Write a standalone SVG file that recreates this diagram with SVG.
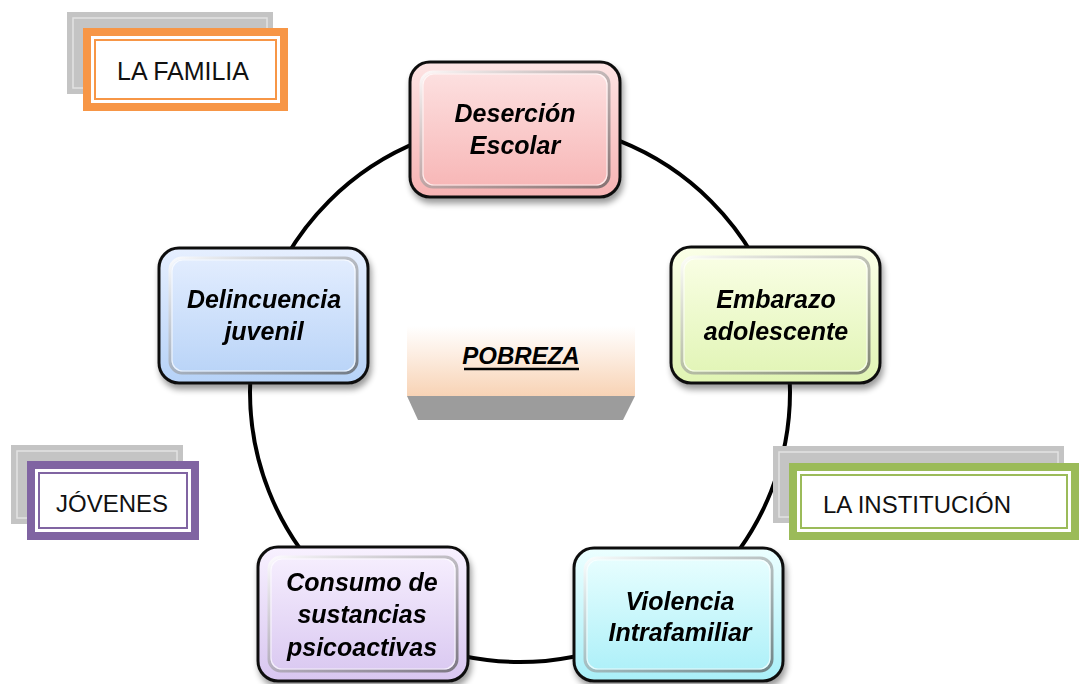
<svg xmlns="http://www.w3.org/2000/svg" width="1079" height="684" viewBox="0 0 1079 684">
<defs>
<style>
.node-text{font-family:"Liberation Sans",Arial,sans-serif;font-weight:bold;font-style:italic;font-size:25px;fill:#000;text-anchor:middle}
.label-text{font-family:"Liberation Sans",Arial,sans-serif;font-size:25px;fill:#111;text-anchor:middle}
.outer{stroke:#111;stroke-width:3}
.bevel{fill:none;stroke:url(#bevelG);stroke-width:3}
.bevel2{fill:none;stroke:#ffffff;stroke-opacity:0.7;stroke-width:1.2}
.ring{fill:none;stroke:#000;stroke-width:4}
.gray{fill:#c4c4c4}
.grayline{fill:none;stroke:#e2e2e2;stroke-width:1.5}
</style>
<filter id="shadow" x="-10%" y="-10%" width="125%" height="130%">
<feGaussianBlur in="SourceAlpha" stdDeviation="3"/>
<feOffset dx="2" dy="5" result="b"/>
<feComponentTransfer><feFuncA type="linear" slope="0.4"/></feComponentTransfer>
<feMerge><feMergeNode/><feMergeNode in="SourceGraphic"/></feMerge>
</filter>
<linearGradient id="bevelG" x1="0" y1="0" x2="1" y2="1">
<stop offset="0" stop-color="#ffffff" stop-opacity="0.8"/>
<stop offset="0.5" stop-color="#999" stop-opacity="0.6"/>
<stop offset="1" stop-color="#555" stop-opacity="0.7"/>
</linearGradient>
<linearGradient id="gPink" x1="0" y1="0" x2="0" y2="1"><stop offset="0" stop-color="#fde4e4"/><stop offset="1" stop-color="#f7b3b3"/></linearGradient>
<linearGradient id="gBlue" x1="0" y1="0" x2="0" y2="1"><stop offset="0" stop-color="#e6efff"/><stop offset="1" stop-color="#b6d2f7"/></linearGradient>
<linearGradient id="gGreen" x1="0" y1="0" x2="0" y2="1"><stop offset="0" stop-color="#fbffe8"/><stop offset="1" stop-color="#e0f4b3"/></linearGradient>
<linearGradient id="gPurple" x1="0" y1="0" x2="0" y2="1"><stop offset="0" stop-color="#f8f1ff"/><stop offset="1" stop-color="#d8c6f0"/></linearGradient>
<linearGradient id="gCyan" x1="0" y1="0" x2="0" y2="1"><stop offset="0" stop-color="#ecffff"/><stop offset="1" stop-color="#a9eff8"/></linearGradient>
<linearGradient id="gPeach" x1="0" y1="0" x2="0" y2="1"><stop offset="0" stop-color="#ffffff"/><stop offset="0.35" stop-color="#fdf0e6"/><stop offset="1" stop-color="#f8d3b5"/></linearGradient>
</defs>
<rect width="1079" height="684" fill="#ffffff"/>

<g id="connectors">
<circle class="ring" cx="520" cy="392" r="270"/>
</g>

<g id="pobreza">
<rect x="407" y="326" width="228" height="70" fill="url(#gPeach)"/>
<polygon points="407,396 635,396 623,420 418,420" fill="#9c9c9c"/>
<text x="521" y="364" class="node-text" style="font-size:24px">POBREZA</text>
<line x1="464" y1="369" x2="579" y2="369" stroke="#000" stroke-width="2.5"/>
</g>

<g id="desercion" filter="url(#shadow)">
<rect x="410" y="62" width="210" height="135" rx="20" class="outer" fill="url(#gPink)"/>
<rect x="421" y="72" width="188" height="115" rx="12" class="bevel"/>
<rect x="423" y="74" width="184" height="111" rx="11" class="bevel2"/>
<text class="node-text" x="515" y="122">Deserción</text>
<text class="node-text" x="515" y="154">Escolar</text>
</g>

<g id="delincuencia" filter="url(#shadow)">
<rect x="159" y="248" width="209" height="135" rx="20" class="outer" fill="url(#gBlue)"/>
<rect x="170" y="258" width="187" height="115" rx="12" class="bevel"/>
<rect x="172" y="260" width="183" height="111" rx="11" class="bevel2"/>
<text class="node-text" x="264" y="308">Delincuencia</text>
<text class="node-text" x="264" y="340">juvenil</text>
</g>

<g id="embarazo" filter="url(#shadow)">
<rect x="671" y="247" width="209" height="136" rx="20" class="outer" fill="url(#gGreen)"/>
<rect x="682" y="257" width="187" height="116" rx="12" class="bevel"/>
<rect x="684" y="259" width="183" height="112" rx="11" class="bevel2"/>
<text class="node-text" x="776" y="308">Embarazo</text>
<text class="node-text" x="776" y="340">adolescente</text>
</g>

<g id="consumo" filter="url(#shadow)">
<rect x="258" y="547" width="210" height="134" rx="20" class="outer" fill="url(#gPurple)"/>
<rect x="269" y="557" width="188" height="114" rx="12" class="bevel"/>
<rect x="271" y="559" width="184" height="110" rx="11" class="bevel2"/>
<text class="node-text" x="362" y="591">Consumo de</text>
<text class="node-text" x="362" y="623">sustancias</text>
<text class="node-text" x="362" y="656">psicoactivas</text>
</g>

<g id="violencia" filter="url(#shadow)">
<rect x="574" y="548" width="209" height="133" rx="20" class="outer" fill="url(#gCyan)"/>
<rect x="585" y="558" width="187" height="113" rx="12" class="bevel"/>
<rect x="587" y="560" width="183" height="109" rx="11" class="bevel2"/>
<text class="node-text" x="680" y="610">Violencia</text>
<text class="node-text" x="680" y="641">Intrafamiliar</text>
</g>

<g id="la-familia">
<rect class="gray" x="67" y="12" width="206" height="82"/>
<rect class="grayline" x="73" y="18" width="194" height="70"/>
<rect x="83" y="28" width="205" height="83" fill="#f79646"/>
<rect x="91" y="36" width="189" height="67" fill="#ffffff"/>
<rect x="95" y="40" width="181" height="59" fill="none" stroke="#f79646" stroke-width="2"/>
<text class="label-text" x="183" y="80">LA FAMILIA</text>
</g>

<g id="jovenes">
<rect class="gray" x="11" y="445" width="172" height="79"/>
<rect class="grayline" x="17" y="451" width="160" height="67"/>
<rect x="27" y="461" width="172" height="79" fill="#8064a2"/>
<rect x="35" y="469" width="156" height="63" fill="#ffffff"/>
<rect x="39" y="473" width="148" height="55" fill="none" stroke="#8064a2" stroke-width="2"/>
<text class="label-text" x="112" y="512" style="font-size:24px">JÓVENES</text>
</g>

<g id="la-institucion">
<rect class="gray" x="773" y="446" width="291" height="77"/>
<rect class="grayline" x="779" y="452" width="279" height="65"/>
<rect x="789" y="463" width="290" height="77" fill="#9bbb59"/>
<rect x="797" y="471" width="274" height="61" fill="#ffffff"/>
<rect x="801" y="475" width="266" height="53" fill="none" stroke="#9bbb59" stroke-width="2"/>
<text class="label-text" x="917" y="513" style="font-size:24px">LA INSTITUCIÓN</text>
</g>
</svg>
